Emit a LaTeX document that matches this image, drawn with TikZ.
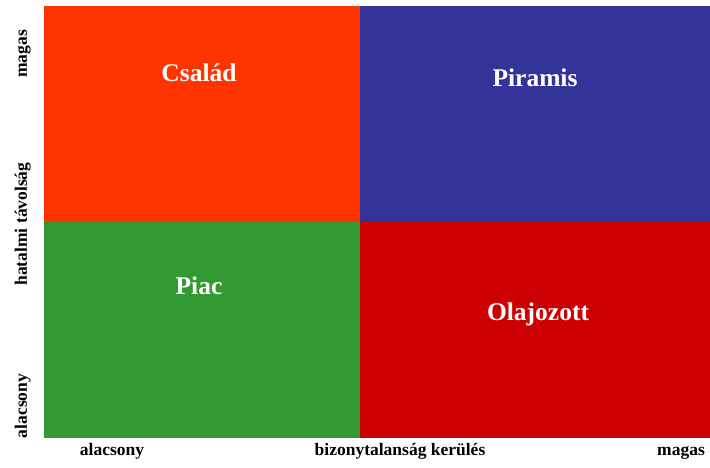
\documentclass[tikz,border=0pt]{standalone}
\usepackage{fontspec}
\setmainfont{Liberation Serif}
\begin{document}
\begin{tikzpicture}[x=1pt,y=-1pt,
  quad/.style={white,font=\bfseries\fontsize{25.5}{30}\selectfont},
  axis/.style={black,font=\bfseries\fontsize{17.5}{21}\selectfont,inner sep=0pt}]
\useasboundingbox (0,0) rectangle (710,467);
% quadrants
\fill[fill={rgb,255:red,255;green,51;blue,0}] (44,6) rectangle (360,222);
\fill[fill={rgb,255:red,51;green,51;blue,153}] (360,6) rectangle (710,222);
\fill[fill={rgb,255:red,51;green,153;blue,51}] (44,222) rectangle (360,438);
\fill[fill={rgb,255:red,204;green,0;blue,0}] (360,222) rectangle (710,438);
% quadrant names
\node[quad] (csalad) at (199,73) {Család};
\node[quad] (piramis) at (535,78) {Piramis};
\node[quad] (piac) at (199,286) {Piac};
\node[quad] (olaj) at (538,314) {Olajozott};
% horizontal axis
\node[axis,anchor=base] (xlow) at (112,455) {alacsony};
\node[axis,anchor=base] (xname) at (400,455) {bizonytalanság kerülés};
\node[axis,anchor=base] (xhigh) at (681,455) {magas};
% vertical axis
\node[axis,anchor=base,rotate=90] (yhigh) at (27,54) {magas};
\node[axis,anchor=base,rotate=90] (yname) at (27,224) {hatalmi távolság};
\node[axis,anchor=base,rotate=90] (ylow) at (27,406) {alacsony};
\end{tikzpicture}
\end{document}
